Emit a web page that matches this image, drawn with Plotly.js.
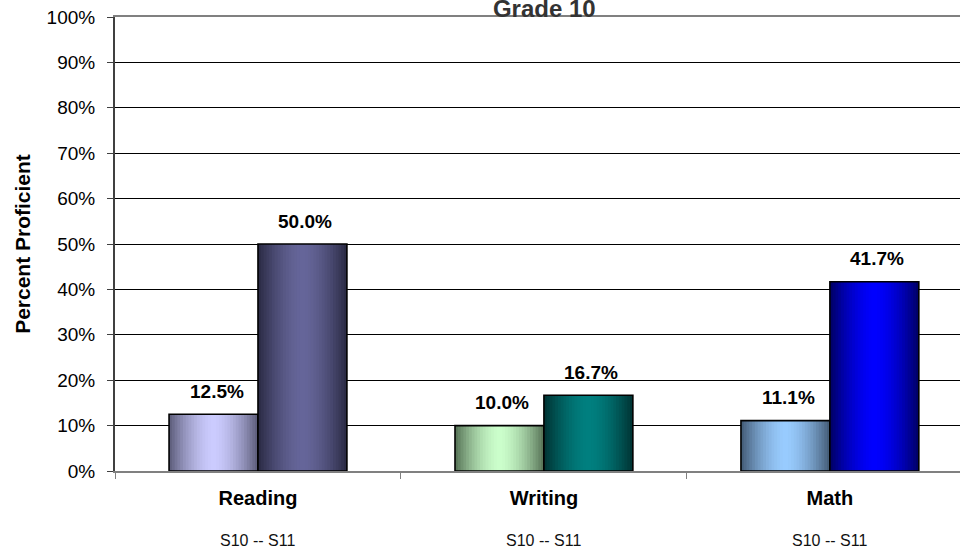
<!DOCTYPE html>
<html>
<head>
<meta charset="utf-8">
<script src="https://cdn.plot.ly/plotly-3.0.1.min.js"></script>
<style>html,body{margin:0;padding:0;background:#fff;}#chart{width:960px;height:552px;}</style>
</head>
<body>
<div id="chart"></div>
<script>
// ---- data ----
const categories = ['Reading', 'Writing', 'Math'];
const seriesNames = ['S10', 'S11'];
const s10 = [12.5, 10.0, 11.1];
const s11 = [50.0, 16.7, 41.7];
const periodLabel = 'S10 -- S11';
const yTickVals = [0, 10, 20, 30, 40, 50, 60, 70, 80, 90, 100];
const yTickText = ['0%', '10%', '20%', '30%', '40%', '50%', '60%', '70%', '80%', '90%', '100%'];

// ---- style ----
const FONT = "'Liberation Sans', Arial, sans-serif";
const series = [
  {name: seriesNames[0], values: s10, center: -0.1555,
   light: ['#ccccff', '#ccffcc', '#99ccff'], dark: ['#60607e', '#5a775a', '#465f7a']},
  {name: seriesNames[1], values: s11, center: 0.1555,
   light: ['#66669a', '#008080', '#0000ff'], dark: ['#2c2c46', '#003535', '#00006a']}
];
const BAR_W = 0.311;
const N = 16;

function hex2rgb(h) { return [1, 3, 5].map(i => parseInt(h.substr(i, 2), 16)); }
function mix(a, b, t) {
  const A = hex2rgb(a), B = hex2rgb(b);
  return 'rgb(' + A.map((v, i) => Math.round(v + (B[i] - v) * t)).join(',') + ')';
}

const traces = [];
series.forEach(s => {
  for (let k = 0; k < N; k++) {
    const d = 1 - k / N;             // normalised half-width of this strip
    const w = BAR_W * d;
    const t = Math.pow(d, 1.7);
    traces.push({
      type: 'bar', x: categories, y: s.values, name: s.name,
      width: w, offset: s.center - w / 2,
      marker: {color: categories.map((c, i) => mix(s.light[i], s.dark[i], t)), line: {width: 0}},
      hoverinfo: 'skip', showlegend: false
    });
  }
  traces.push({
    type: 'bar', x: categories, y: s.values, name: s.name,
    width: BAR_W, offset: s.center - BAR_W / 2,
    marker: {color: 'rgba(0,0,0,0)', line: {color: '#000', width: 1.6}},
    showlegend: false
  });
});

const annotations = [];
series.forEach(s => {
  s.values.forEach((v, i) => {
    annotations.push({
      x: categories[i], y: v, xref: 'x', yref: 'y',
      text: '<b>' + v.toFixed(1) + '%</b>', showarrow: false,
      xanchor: 'center', yanchor: 'middle',
      xshift: s.center * 286 + 3, yshift: 23,
      font: {family: FONT, size: 19, color: '#000'}
    });
  });
});
categories.forEach(c => {
  annotations.push({
    x: c, y: -0.154, xref: 'x', yref: 'paper', text: periodLabel, showarrow: false,
    xanchor: 'center', yanchor: 'middle',
    font: {family: FONT, size: 16, color: '#111'}
  });
});

const layout = {
  width: 960, height: 552,
  margin: {l: 115, r: 0, t: 17, b: 81, pad: 0},
  paper_bgcolor: '#fff', plot_bgcolor: '#fff',
  barmode: 'overlay',
  font: {family: FONT, color: '#000'},
  title: {
    text: '<b>Grade 10</b>', x: 0.567, xref: 'container', xanchor: 'center',
    y: 0.984, yref: 'container', yanchor: 'middle',
    font: {family: FONT, size: 24, color: '#333'}
  },
  xaxis: {
    type: 'category', range: [-0.5, 2.455], fixedrange: true,
    tickson: 'boundaries', ticks: 'outside', ticklen: 6, tickwidth: 1, tickcolor: '#808080',
    showline: true, linecolor: '#808080', linewidth: 2, mirror: true,
    showgrid: false, zeroline: false,
    tickfont: {family: FONT, size: 20, weight: 'bold', color: '#000'},
    ticklabelstandoff: 8
  },
  yaxis: {
    range: [0, 100], fixedrange: true,
    tickvals: yTickVals, ticktext: yTickText,
    ticks: 'outside', ticklen: 6, tickwidth: 1, tickcolor: '#404040',
    showline: true, linecolor: '#404040', linewidth: 2,
    showgrid: true, gridcolor: '#000', gridwidth: 1, zeroline: false,
    tickfont: {family: FONT, size: 19, color: '#000'},
    ticklabelstandoff: 8,
    title: {text: '<b>Percent Proficient</b>', standoff: 10, font: {family: FONT, size: 21, color: '#000'}}
  },
  annotations: annotations
};

Plotly.newPlot('chart', traces, layout, {displayModeBar: false, staticPlot: true});
</script>
</body>
</html>
